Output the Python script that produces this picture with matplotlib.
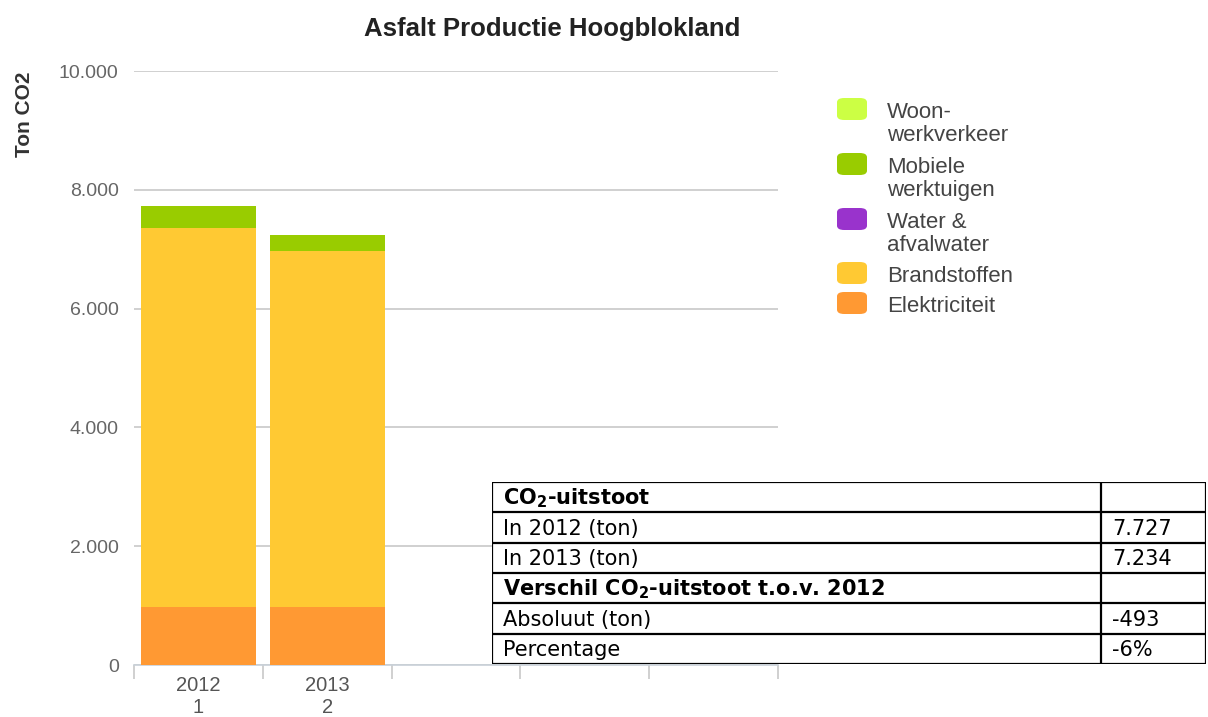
import numpy as np
import matplotlib.pyplot as plt
from matplotlib.ticker import FuncFormatter
from matplotlib.patches import FancyBboxPatch

plt.rcParams['font.family'] = ['Liberation Sans', 'DejaVu Sans']

years = ['2012\n1', '2013\n2']
series = ['Woon-\nwerkverkeer', 'Mobiele\nwerktuigen', 'Water &\nafvalwater', 'Brandstoffen', 'Elektriciteit']
colors = ['#ccff44', '#99cc00', '#9933cc', '#ffc933', '#ff9933']
elektriciteit = [980, 980]
brandstoffen = [6380, 5990]
water = [0, 0]
mobiele = [367, 264]
woon = [0, 0]

table_rows = ['CO$_\\mathbf{2}$-uitstoot', 'In 2012 (ton)', 'In 2013 (ton)',
              'Verschil CO$_\\mathbf{2}$-uitstoot t.o.v. 2012', 'Absoluut (ton)', 'Percentage']
table_vals = ['', '7.727', '7.234', '', '-493', '-6%']
table_bold = [True, False, False, True, False, False]

W, H = 1208, 717
fig = plt.figure(figsize=(W / 100, H / 100), dpi=100)
ax = fig.add_axes([134 / W, 1 - 665 / H, (778 - 134) / W, (665 - 71) / H])

ind = np.arange(len(years))
width = 0.89
# stacked from the bottom: Elektriciteit, Brandstoffen, Water, Mobiele, Woon
stack = [elektriciteit, brandstoffen, water, mobiele, woon]
stack_colors = colors[::-1]
bottom = np.zeros(len(years))
for vals, c in zip(stack, stack_colors):
    ax.bar(ind, vals, width, bottom=bottom, color=c, linewidth=0, zorder=3)
    bottom += np.array(vals)

ax.set_xlim(-0.5, 4.5)
ax.set_ylim(0, 10000)
ax.set_yticks(np.arange(0, 10001, 2000))
ax.yaxis.set_major_formatter(FuncFormatter(lambda v, p: f'{int(v):,}'.replace(',', '.')))
ax.yaxis.grid(True, color='#c8c8c8', linewidth=1.2)
ax.set_axisbelow(True)
ax.tick_params(axis='y', length=0, labelsize=14, labelcolor='#666666', pad=11)
ax.set_xticks(ind)
ax.set_xticklabels(years, fontsize=14.5, color='#555555', linespacing=1.2)
ax.set_xticks(np.arange(-0.5, 5, 1), minor=True)
ax.tick_params(axis='x', which='major', length=0, pad=8)
ax.tick_params(axis='x', which='minor', length=10, color='#c8c8c8', width=1.2)
for s in ['top', 'right', 'left']:
    ax.spines[s].set_visible(False)
ax.spines['bottom'].set_color('#c8d0d8')
ax.spines['bottom'].set_linewidth(1.2)

fig.text(552 / W, 1 - 29 / H, 'Asfalt Productie Hoogblokland', ha='center', va='center',
         fontsize=18.5, fontweight='bold', color='#222222')
fig.text(24 / W, 1 - 114 / H, 'Ton CO2', ha='center', va='center', rotation=90,
         fontsize=15, fontweight='bold', color='#333333')

# legend
leg_y = [109, 164, 219, 273, 303]
for name, c, y in zip(series, colors, leg_y):
    fig.patches.append(FancyBboxPatch((837 / W, 1 - (y + 11) / H), 30 / W, 22 / H,
                                      boxstyle='round,pad=0,rounding_size=0.006',
                                      transform=fig.transFigure, facecolor=c, edgecolor='none'))
    fig.text(887 / W, 1 - (y - 7) / H, name, ha='left', va='top', fontsize=16,
             color='#444444', linespacing=1.13)

# table overlay
tab = fig.add_axes([492 / W, 1 - 664 / H, (1206 - 492) / W, (664 - 482) / H])
tab.set_xlim(492, 1206)
tab.set_ylim(len(table_rows), 0)
tab.axis('off')
tab.add_patch(plt.Rectangle((492, 0), 714, len(table_rows), facecolor='white', edgecolor='none'))
for i in range(len(table_rows) + 1):
    tab.plot([492, 1206], [i, i], color='black', lw=1.6, solid_capstyle='projecting')
for x in [492, 1101, 1206]:
    tab.plot([x, x], [0, len(table_rows)], color='black', lw=1.6)
for i, (lab, val, b) in enumerate(zip(table_rows, table_vals, table_bold)):
    tab.text(503, i + 0.55, lab, ha='left', va='center', fontsize=15,
             fontweight='bold' if b else 'normal', family='DejaVu Sans')
    tab.text(1112, i + 0.55, val, ha='left', va='center', fontsize=15, family='DejaVu Sans')

fig.savefig('out.png', dpi=100)
